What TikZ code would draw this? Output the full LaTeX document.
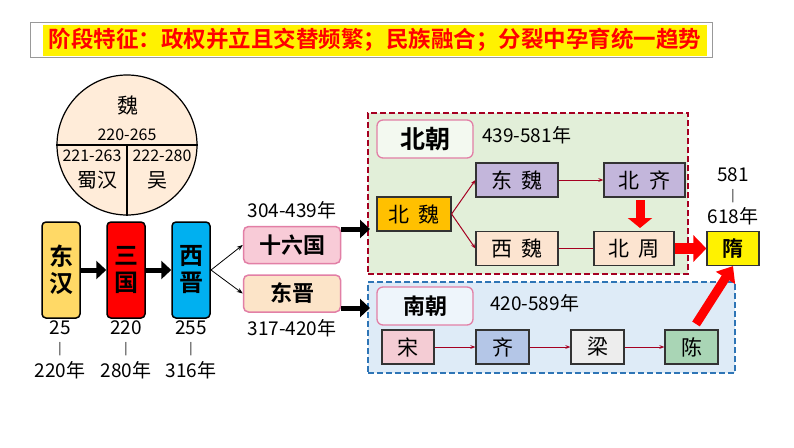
\documentclass[tikz,border=0pt]{standalone}
\usepackage{fontspec}
\setmainfont{Noto Sans CJK SC}
\newfontfamily\cjkb{Noto Sans CJK SC Bold}
\usetikzlibrary{arrows.meta}
\definecolor{bgreen}{HTML}{E2EFD9}
\definecolor{bblue}{HTML}{DEEBF7}
\definecolor{dred}{HTML}{A50021}
\definecolor{dblue}{HTML}{2E75B6}
\definecolor{pinkb}{HTML}{E27FA6}
\tikzset{
 era/.style={draw=black,line width=1.5pt,rounded corners=4pt,minimum width=38pt,minimum height=96pt,inner sep=0pt,font=\cjkb\fontsize{24}{27}\selectfont,align=center},
 mid/.style={draw=pinkb,line width=1.5pt,rounded corners=5pt,minimum width=97pt,minimum height=37pt,font=\cjkb\fontsize{22}{24}\selectfont},
 dyn/.style={draw=black!80,line width=1.2pt,minimum height=34pt,inner sep=0pt,font=\fontsize{21}{24}\selectfont},
 lbl/.style={font=\fontsize{19}{21}\selectfont,inner sep=0pt},
 clbl/.style={font=\fontsize{16}{18}\selectfont,inner sep=0pt},
 bigarr/.style={-{Triangle[length=10pt,width=18pt]},line width=5pt},
 redarr/.style={-{Stealth[length=5pt]},dred,line width=1pt},
 fatred/.style={-{Triangle[length=13pt,width=26pt]},red,line width=11pt},
 dashbox/.style={dash pattern=on 6pt off 3pt,line width=1.5pt},
}
\begin{document}
\begin{tikzpicture}[x=1pt,y=-1pt]
\useasboundingbox (0,0) rectangle (794,447);
\fill[white] (0,0) rectangle (794,447);
% banner
\draw[draw=black!40,line width=0.6pt] (30,22) rectangle (712,57);
\node (ban) [fill=yellow,inner sep=1pt,minimum width=664pt,minimum height=31pt,text=red,font=\cjkb\fontsize{22.5}{24}\selectfont] at (375,40) {阶段特征：政权并立且交替频繁；民族融合；分裂中孕育统一趋势};
% circle
\node (cir) [circle,draw=black,line width=1.2pt,fill=orange!15,minimum size=140pt,inner sep=0pt] at (127,145) {};
\draw[line width=1.2pt] (cir.west) -- (cir.east);
\draw[line width=1.2pt] (cir.center) -- (cir.south);
\node (wei) [clbl,font=\fontsize{21}{22}\selectfont] at (128,105) {魏};
\node (wd) [clbl] at (127,135) {220-265};
\node (sd) [clbl] at (92,156) {221-263};
\node (wud) [clbl] at (162,156) {222-280};
\node (shu) [clbl,font=\fontsize{20}{22}\selectfont] at (97,180) {蜀汉};
\node (wu) [clbl,font=\fontsize{20}{22}\selectfont] at (157,180) {吴};
% eras
\node (dh) [era,fill={rgb,255:red,255;green,217;blue,102}] at (61,270) {东\\汉};
\node (sg) [era,fill=red] at (126,270) {三\\国};
\node (xj) [era,fill={rgb,255:red,0;green,176;blue,240}] at (191,270) {西\\晋};
\draw[bigarr] (dh) -- (sg);
\draw[bigarr] (sg) -- (xj);
\foreach \n/\x/\a/\b in {d1/60/25/220年,d2/126/220/280年,d3/191/255/316年}{
 \node (\n a) [lbl] at (\x,328) {\a};
 \node (\n b) [lbl,font=\fontsize{12}{14}\selectfont] at (\x,349) {|};
 \node (\n c) [lbl] at (\x,370) {\b};
}
\node (sl) [mid,fill={rgb,255:red,248;green,203;blue,215}] at (292,245) {十六国};
\node (dj) [mid,fill={rgb,255:red,252;green,228;blue,200}] at (292,293.5) {东晋};
\node (sld) [lbl] at (292,210) {304-439年};
\node (djd) [lbl] at (292,328) {317-420年};
\coordinate (xjr) at (211,270);
\draw[-{Stealth[length=6pt]},line width=0.8pt] (xjr) -- (sl.west);
\draw[-{Stealth[length=6pt]},line width=0.8pt] (xjr) -- (dj.west);
% boxes
\node (nbox) [draw=dred,dashbox,fill=bgreen,minimum width=320pt,minimum height=161pt] at (528,193.5) {};
\node (sbox) [draw=dblue,dashbox,fill=bblue,minimum width=367pt,minimum height=91pt] at (551.5,327.5) {};
\coordinate (slr) at (341,229); \coordinate (nbl) at (370,229);
\draw[bigarr] (slr) -- (nbl);
\coordinate (djr) at (341,308); \coordinate (sbl) at (370,308);
\draw[bigarr] (djr) -- (sbl);
\node (nc) [draw=pinkb,line width=1.3pt,rounded corners=6pt,fill=white!60!bgreen,minimum width=96pt,minimum height=38pt,font=\cjkb\fontsize{25}{27}\selectfont] at (425,139) {北朝};
\node (ncd) [lbl,anchor=west] at (482,135) {439-581年};
\node (bw) [dyn,fill={rgb,255:red,255;green,192;blue,0},minimum width=74pt] at (414,214) {北\ \ 魏};
\node (dw) [dyn,fill={rgb,255:red,195;green,182;blue,219},minimum width=82pt] at (517,180) {东\ \ 魏};
\node (bq) [dyn,fill={rgb,255:red,195;green,182;blue,219},minimum width=81pt] at (644.5,180) {北\ \ 齐};
\node (xw) [dyn,fill={rgb,255:red,252;green,228;blue,208},minimum width=82pt] at (517,248.5) {西\ \ 魏};
\node (bz) [dyn,fill={rgb,255:red,252;green,228;blue,208},minimum width=80pt] at (634,248.5) {北\ \ 周};
\draw[redarr] (bw.east) -- (dw.west);
\draw[redarr] (bw.east) -- (xw.west);
\draw[redarr] (dw) -- (bq);
\draw[dred,line width=1pt] (xw) -- (bz);
\coordinate (bqs) at (640,200);
\coordinate (bzn) at (640,228);
\draw[red,line width=9pt,-{Triangle[length=10pt,width=24pt]}] (bqs) -- (bzn);
\node (sui) [dyn,fill=yellow,minimum width=52pt,font=\cjkb\fontsize{21}{24}\selectfont] at (733,248.5) {隋};
\draw[fatred] (bz) -- (sui);
\node (s1) [lbl] at (733,175) {581};
\node (s2) [lbl,font=\fontsize{12}{14}\selectfont] at (733,196) {|};
\node (s3) [lbl] at (733,216) {618年};
% south
\node (scn) [draw=pinkb,line width=1.3pt,rounded corners=6pt,fill=white!50!bblue,minimum width=96pt,minimum height=38pt,font=\cjkb\fontsize{22}{24}\selectfont] at (425,306) {南朝};
\node (scd) [lbl,anchor=west] at (490,303) {420-589年};
\node (song) [dyn,fill={rgb,255:red,244;green,204;blue,212},minimum width=52pt] at (408,347) {宋};
\node (qi) [dyn,fill={rgb,255:red,180;green,198;blue,231},minimum width=53pt] at (502.5,347) {齐};
\node (liang) [dyn,fill={rgb,255:red,237;green,237;blue,237},minimum width=53pt] at (597.5,347) {梁};
\node (chen) [dyn,fill={rgb,255:red,169;green,213;blue,181},minimum width=53pt] at (691.5,347) {陈};
\draw[redarr] (song) -- (qi);
\draw[redarr] (qi) -- (liang);
\draw[redarr] (liang) -- (chen);
\coordinate (chn) at (696,324);
\draw[red,line width=9pt,-{Triangle[length=14pt,width=22pt]}] (chn) -- (sui.south);
\end{tikzpicture}
\end{document}
